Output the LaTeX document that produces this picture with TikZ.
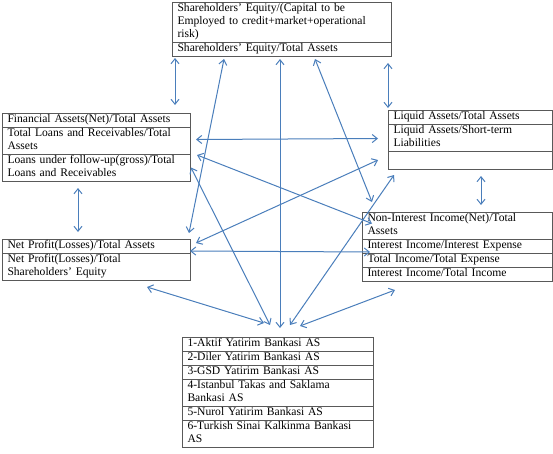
\documentclass[tikz,border=0pt]{standalone}
\usepackage{fontspec}
\setmainfont{Liberation Serif}
\usetikzlibrary{positioning,arrows.meta}

\definecolor{linkblue}{RGB}{74,126,187}
\tikzset{
  cell/.style={draw=black!65, line width=0.8pt, inner xsep=5.5pt, inner ysep=0.5pt,
    outer sep=0pt, align=left, font=\fontsize{11.6}{13}\selectfont,
    execute at begin node=\strut, execute at end node=\strut},
  link/.style={draw=linkblue, line width=1pt,
    {Straight Barb[length=5pt,width=8pt]}-{Straight Barb[length=5pt,width=8pt]}},
}

\begin{document}
\begin{tikzpicture}[x=1pt, y=-1pt]
		\useasboundingbox (0,0) rectangle (553,453);
		
		% capital
		\node[cell, text width=208pt, anchor=north west] (top1) at (172,2) {Shareholders' Equity/(Capital to be\\Employed to credit+market+operational\\risk)};
		\node[cell, text width=208pt, below=0pt of top1] (top2) {Shareholders' Equity/Total Assets};
		
		% assets
		\node[cell, text width=177pt, anchor=north west] (fin1) at (2,113) {Financial Assets(Net)/Total Assets};
		\node[cell, text width=177pt, below=0pt of fin1] (fin2) {Total Loans and Receivables/Total\\Assets};
		\node[cell, text width=177pt, below=0pt of fin2] (fin3) {Loans under follow-up(gross)/Total\\Loans and Receivables};
		
		% liquidity
		\node[cell, text width=153pt, anchor=north west] (liq1) at (388,110) {Liquid Assets/Total Assets};
		\node[cell, text width=153pt, below=0pt of liq1] (liq2) {Liquid Assets/Short-term\\Liabilities};
		\node[cell, text width=153pt, minimum height=18pt, below=0pt of liq2] (liq3) {};
		
		% profitability
		\node[cell, text width=177pt, anchor=north west] (net1) at (2,239) {Net Profit(Losses)/Total Assets};
		\node[cell, text width=177pt, below=0pt of net1] (net2) {Net Profit(Losses)/Total\\Shareholders' Equity};
		
		% income
		\node[cell, text width=179pt, anchor=north west] (inc1) at (362,212) {Non-Interest Income(Net)/Total\\Assets};
		\node[cell, text width=179pt, below=0pt of inc1] (inc2) {Interest Income/Interest Expense};
		\node[cell, text width=179pt, below=0pt of inc2] (inc3) {Total Income/Total Expense};
		\node[cell, text width=179pt, below=0pt of inc3] (inc4) {Interest Income/Total Income};
		
		% banks
		\node[cell, text width=180pt, anchor=north west] (bank1) at (182,337) {1-Aktif Yatirim Bankasi AS};
		\node[cell, text width=180pt, below=0pt of bank1] (bank2) {2-Diler Yatirim Bankasi AS};
		\node[cell, text width=180pt, below=0pt of bank2] (bank3) {3-GSD Yatirim Bankasi AS};
		\node[cell, text width=180pt, below=0pt of bank3] (bank4) {4-Istanbul Takas and Saklama\\Bankasi AS};
		\node[cell, text width=180pt, below=0pt of bank4] (bank5) {5-Nurol Yatirim Bankasi AS};
		\node[cell, text width=180pt, below=0pt of bank5] (bank6) {6-Turkish Sinai Kalkinma Bankasi\\AS};
		
		\draw[link] ([shift={(3,2)}]top2.south west) -- ([shift={(-15,-8)}]fin1.north east);
		\draw[link] ([shift={(52,3)}]top2.south west) -- ([shift={(-1,-6)}]net1.north east);
		\draw[link] ([shift={(108,3)}]top2.south west) -- ([shift={(98,-9)}]bank1.north west);
		\draw[link] ([shift={(143,3)}]top2.south west) -- ([shift={(10,-10)}]inc1.north west);
		\draw[link] ([shift={(-3,7)}]top2.south east) -- ([shift={(0,-2)}]liq1.north west);
		\draw[link] ([shift={(6,-1)}]fin2.east) -- ([shift={(-10,1)}]liq2.west);
		\draw[link] ([shift={(7,1)}]fin3.north east) -- ([shift={(10,-2)}]inc1.west);
		\draw[link] ([shift={(1,0)}]fin3.east) -- ([shift={(88,-12)}]bank1.north west);
		\draw[link] ([shift={(6,-3)}]net1.east) -- ([shift={(-10,0)}]liq3.west);
		\draw[link] ([shift={(0,-2)}]net1.south east) -- ([shift={(8,6)}]inc2.west);
		\draw[link] ([shift={(108,-12)}]bank1.north west) -- ([shift={(6,6)}]liq3.south west);
		\draw[link] ([shift={(-43,7)}]net2.south east) -- ([shift={(82,-14)}]bank1.north west);
		\draw[link] ([shift={(118,-11)}]bank1.north west) -- ([shift={(33,9)}]inc4.south west);
		\draw[link] ([shift={(76,7)}]fin3.south west) -- ([shift={(76,-7)}]net1.north west);
		\draw[link] ([shift={(93,7)}]liq3.south west) -- ([shift={(119,-7)}]inc1.north west);
	\end{tikzpicture}
\end{document}
